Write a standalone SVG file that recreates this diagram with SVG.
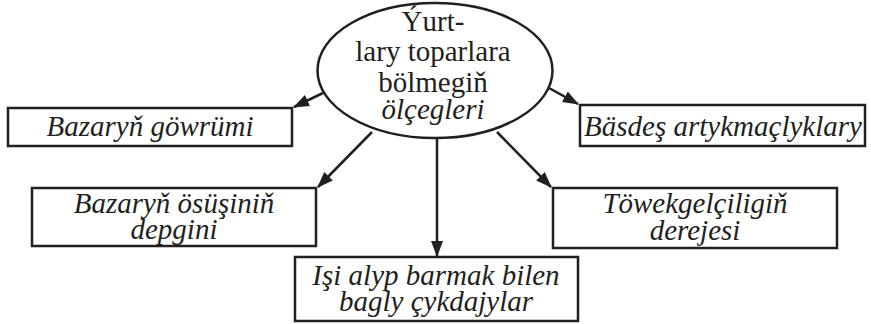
<svg xmlns="http://www.w3.org/2000/svg" width="871" height="324" viewBox="0 0 871 324">
<style>
.box{fill:#fff;stroke:#231f20;stroke-width:2.5}
.t{font-family:"Liberation Serif","Times New Roman",serif;font-size:29px;fill:#231f20;text-anchor:middle}
.i{font-style:italic}
.c{stroke:#231f20;stroke-width:2.5;fill:none;marker-end:url(#ah)}
</style>
<defs>
<marker id="ah" viewBox="0 0 16 12" refX="15" refY="6" markerWidth="16" markerHeight="12" markerUnits="userSpaceOnUse" orient="auto">
<path d="M0,0 L16,6 L0,12 Z" fill="#231f20"/>
</marker>
</defs>
<g id="connectors">
<line class="c" x1="323" y1="93" x2="294" y2="107"/>
<line class="c" x1="549" y1="88" x2="578" y2="104"/>
<line class="c" x1="372" y1="132" x2="318" y2="187"/>
<line class="c" x1="437" y1="138" x2="437" y2="256"/>
<line class="c" x1="497" y1="132" x2="551" y2="187"/>
</g>
<g id="center">
<ellipse cx="435" cy="70.5" rx="117.5" ry="67.5" fill="#fff" stroke="#231f20" stroke-width="2.5"/>
<text class="t" x="433" y="31">Ýurt-</text>
<text class="t" x="433" y="61">lary toparlara</text>
<text class="t" x="433" y="92">bölmegiň</text>
<text class="t i" x="433" y="119">ölçegleri</text>
</g>
<g id="box1">
<rect class="box" x="8" y="108" width="284" height="38"/>
<text class="t i" x="150" y="136">Bazaryň göwrümi</text>
</g>
<g id="box2">
<rect class="box" x="580" y="105" width="285" height="41"/>
<text class="t i" x="723" y="136">Bäsdeş artykmaçlyklary</text>
</g>
<g id="box3">
<rect class="box" x="32" y="188" width="284" height="58"/>
<text class="t i" x="174" y="213">Bazaryň ösüşiniň</text>
<text class="t i" x="174" y="239">depgini</text>
</g>
<g id="box4">
<rect class="box" x="553" y="188" width="284" height="60"/>
<text class="t i" x="695" y="213">Töwekgelçiligiň</text>
<text class="t i" x="695" y="240">derejesi</text>
</g>
<g id="box5">
<rect class="box" x="295" y="257" width="283" height="64"/>
<text class="t i" x="436" y="285">Işi alyp barmak bilen</text>
<text class="t i" x="436" y="311">bagly çykdajylar</text>
</g>
</svg>
